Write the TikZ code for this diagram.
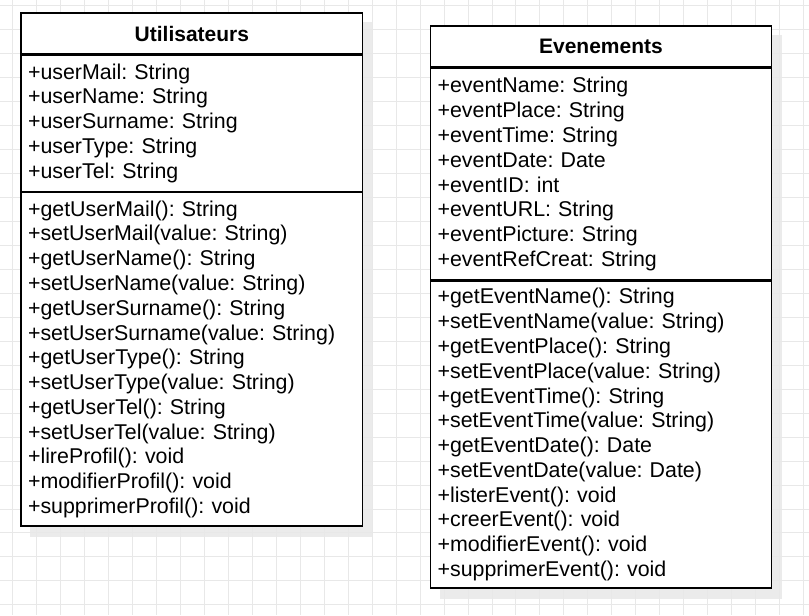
\documentclass[tikz,border=0pt]{standalone}
\usepackage{fontspec}
\setmainfont{Liberation Sans}
\usetikzlibrary{positioning,backgrounds}
\definecolor{gridgray}{HTML}{E8E8E8}
\definecolor{shadowgray}{HTML}{EBEBEB}
\frenchspacing
\begin{document}
\begin{tikzpicture}[x=1pt, y=-1pt,
    classhead/.style={draw, fill=white, line width=1.3pt, inner sep=0pt,
        font=\fontsize{21}{24.8}\selectfont\bfseries},
    classpart/.style={draw, fill=white, line width=1.3pt, inner xsep=7pt, inner ysep=0pt,
        align=left, font=\fontsize{21.4}{24.8}\selectfont}]
            \begin{scope}[on background layer]
                \fill[white] (0,0) rectangle (809,615);
            \end{scope}
            \foreach \gx in {12,36,...,804}
                {
                    \draw[gridgray, line width=0.8pt] (\gx,0) -- (\gx,615);
                }
            \foreach \gy in {5,29,...,610}
                {
                    \draw[gridgray, line width=0.8pt] (0,\gy) -- (809,\gy);
                }

            \node[classhead, minimum width=342, minimum height=41, anchor=north west] (utilHead) at (20,12) {Utilisateurs};
            \node[classpart, text width=328, minimum height=136, below=0pt of utilHead] (utilAttr)
                {+userMail: String\\+userName: String\\+userSurname: String\\+userType: String\\+userTel: String};
            \node[classpart, text width=328, minimum height=334, below=0pt of utilAttr] (utilMeth)
                {+getUserMail(): String\\+setUserMail(value: String)\\+getUserName(): String\\+setUserName(value: String)\\
                 +getUserSurname(): String\\+setUserSurname(value: String)\\+getUserType(): String\\+setUserType(value: String)\\
                 +getUserTel(): String\\+setUserTel(value: String)\\+lireProfil(): void\\+modifierProfil(): void\\+supprimerProfil(): void};

            \node[classhead, minimum width=341, minimum height=41, anchor=north west] (eventHead) at (430,25) {Evenements};
            \node[classpart, text width=327, minimum height=212, below=0pt of eventHead] (eventAttr)
                {+eventName: String\\+eventPlace: String\\+eventTime: String\\+eventDate: Date\\+eventID: int\\
                 +eventURL: String\\+eventPicture: String\\+eventRefCreat: String};
            \node[classpart, text width=327, minimum height=307, below=0pt of eventAttr] (eventMeth)
                {+getEventName(): String\\+setEventName(value: String)\\+getEventPlace(): String\\+setEventPlace(value: String)\\
                 +getEventTime(): String\\+setEventTime(value: String)\\+getEventDate(): Date\\+setEventDate(value: Date)\\
                 +listerEvent(): void\\+creerEvent(): void\\+modifierEvent(): void\\+supprimerEvent(): void};

            \begin{scope}[on background layer]
                \fill[shadowgray] ([shift={(10,10)}]utilHead.north west) rectangle ([shift={(10,10)}]utilMeth.south east);
                \fill[shadowgray] ([shift={(10,10)}]eventHead.north west) rectangle ([shift={(10,10)}]eventMeth.south east);
            \end{scope}
        \end{tikzpicture}
\end{document}
